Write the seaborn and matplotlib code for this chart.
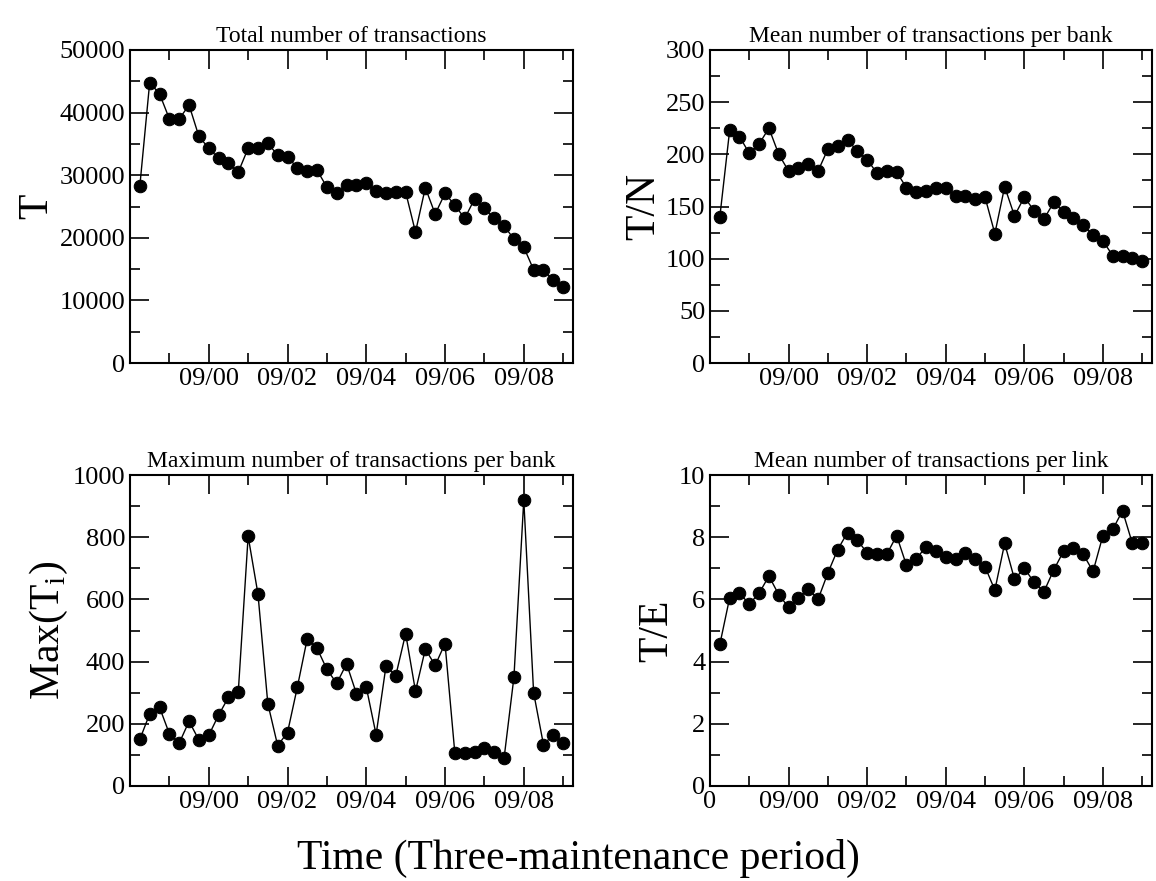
import numpy as np
import pandas as pd
import seaborn as sns
import matplotlib.pyplot as plt
from matplotlib.ticker import AutoMinorLocator

# ------------------- DATA -------------------
total_T = [28300, 44800, 43000, 39000, 39000, 41200, 36200, 34300, 32700, 31900,
           30500, 34300, 34400, 35100, 33200, 32900, 31200, 30700, 30800, 28100,
           27100, 28400, 28500, 28800, 27400, 27200, 27300, 27300, 20900, 28000,
           23800, 27100, 25200, 23100, 26200, 24700, 23100, 21900, 19800, 18500,
           14900, 14900, 13200, 12200]
mean_TN = [140, 223, 217, 201, 210, 225, 200, 184, 187, 191,
           184, 205, 208, 214, 203, 195, 182, 184, 183, 168,
           164, 165, 168, 168, 160, 160, 157, 159, 124, 169,
           141, 159, 146, 138, 154, 145, 139, 132, 123, 117,
           103, 103, 101, 98]
max_Ti = [150, 232, 253, 168, 138, 208, 148, 163, 228, 285,
          303, 803, 617, 265, 130, 172, 318, 473, 443, 375,
          330, 393, 297, 318, 165, 385, 355, 490, 305, 440,
          388, 458, 105, 105, 108, 123, 108, 90, 350, 920,
          300, 133, 165, 138]
mean_TE = [4.55, 6.05, 6.2, 5.85, 6.2, 6.75, 6.15, 5.75, 6.05, 6.35,
           6.0, 6.85, 7.6, 8.15, 7.9, 7.5, 7.45, 7.45, 8.05, 7.1,
           7.3, 7.7, 7.55, 7.35, 7.3, 7.5, 7.3, 7.05, 6.3, 7.8,
           6.65, 7.0, 6.55, 6.25, 6.95, 7.55, 7.65, 7.45, 6.9, 8.05,
           8.25, 8.85, 7.8, 7.8]
tick_pos = [7, 15, 23, 31, 39]
tick_labels = ["09/00", "09/02", "09/04", "09/06", "09/08"]

sns.set_theme(style="ticks")
plt.rcParams['font.family'] = ['Liberation Serif', 'DejaVu Serif']
plt.rcParams['text.color'] = 'black'
plt.rcParams['axes.labelcolor'] = 'black'
plt.rcParams['xtick.color'] = 'black'
plt.rcParams['ytick.color'] = 'black'

fig = plt.figure(figsize=(11.56, 8.81), dpi=100)
W, H = 1156, 881
boxes = [(130, 50, 573, 363), (710, 50, 1152, 363),
         (130, 475, 573, 786), (710, 475, 1152, 786)]
panels = [
    (total_T, "Total number of transactions", "T", (0, 50000), 10000),
    (mean_TN, "Mean number of transactions per bank", "T/N", (0, 300), 50),
    (max_Ti, "Maximum number of transactions per bank", r"Max(T$_\mathregular{i}$)", (0, 1000), 200),
    (mean_TE, "Mean number of transactions per link", "T/E", (0, 10), 2),
]

for i, ((x0, y0, x1, y1), (vals, title, ylab, ylim, step)) in enumerate(zip(boxes, panels)):
    ax = fig.add_axes([x0 / W, 1 - y1 / H, (x1 - x0) / W, (y1 - y0) / H])
    df = pd.DataFrame({"t": np.arange(len(vals)), "v": vals})
    sns.lineplot(data=df, x="t", y="v", ax=ax, color="black", lw=1,
                 marker="o", markersize=9, markeredgecolor="black")
    ax.set_xlim(-1, 44)
    if i == 3:
        ax.set_xticks([-1] + tick_pos)
        ax.set_xticklabels(["0"] + tick_labels)
    else:
        ax.set_xticks(tick_pos)
        ax.set_xticklabels(tick_labels)
    ax.set_xticks([3, 11, 19, 27, 35, 43], minor=True)
    ax.set_ylim(*ylim)
    ax.set_yticks(np.arange(ylim[0], ylim[1] + step / 2, step))
    ax.yaxis.set_minor_locator(AutoMinorLocator(2))
    ax.set_title(title, fontsize=17, color="black")
    ax.set_xlabel("")
    ax.set_ylabel(ylab, fontsize=30, labelpad=2)
    ax.tick_params(which="both", direction="in", labelsize=19, width=1.2,
                   top=True, right=True, colors="black")
    ax.tick_params(which="major", length=14)
    ax.tick_params(which="minor", length=7)
    for s in ax.spines.values():
        s.set_linewidth(1.5)
        s.set_color("black")

fig.text(0.5, 1 - 858 / H, "Time (Three-maintenance period)", ha="center", va="center", fontsize=30)
fig.savefig("out.png", dpi=100)
